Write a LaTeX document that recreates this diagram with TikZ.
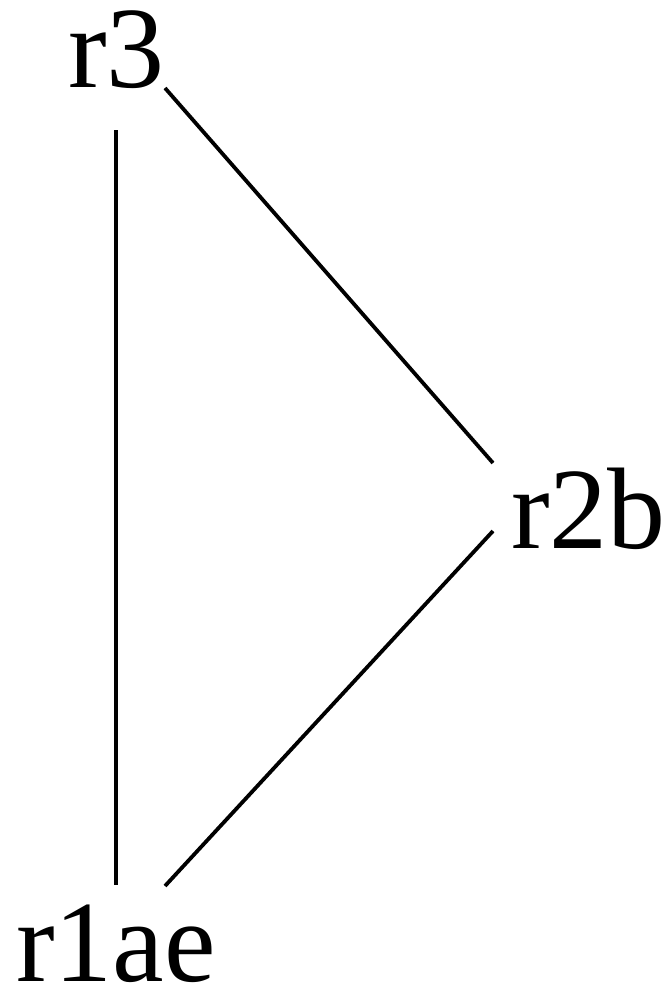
\documentclass[tikz,border=0pt]{standalone}
\usepackage{fontspec}
\setmainfont{Liberation Serif}
\begin{document}
\begin{tikzpicture}[x=1pt,y=-1pt,
  lbl/.style={anchor=base west,inner sep=0pt,font=\fontsize{116}{120}\selectfont},
  edge/.style={line width=3.8pt}]
\useasboundingbox (0,0) rectangle (668,989);
\node[lbl] (r3) at (68,87) {r3};
\node[lbl] (r2b) at (511,548) {r2b};
\node[lbl] (r1ae) at (16,981) {r1ae};
\coordinate (r3s) at (116,130);
\coordinate (r3e) at (165,88);
\coordinate (r2bn) at (493,463);
\coordinate (r2bs) at (493,531);
\coordinate (r1n) at (116,885);
\coordinate (r1e) at (165,886);
\draw[edge] (r3s) -- (r1n);
\draw[edge] (r3e) -- (r2bn);
\draw[edge] (r2bs) -- (r1e);
\end{tikzpicture}
\end{document}
